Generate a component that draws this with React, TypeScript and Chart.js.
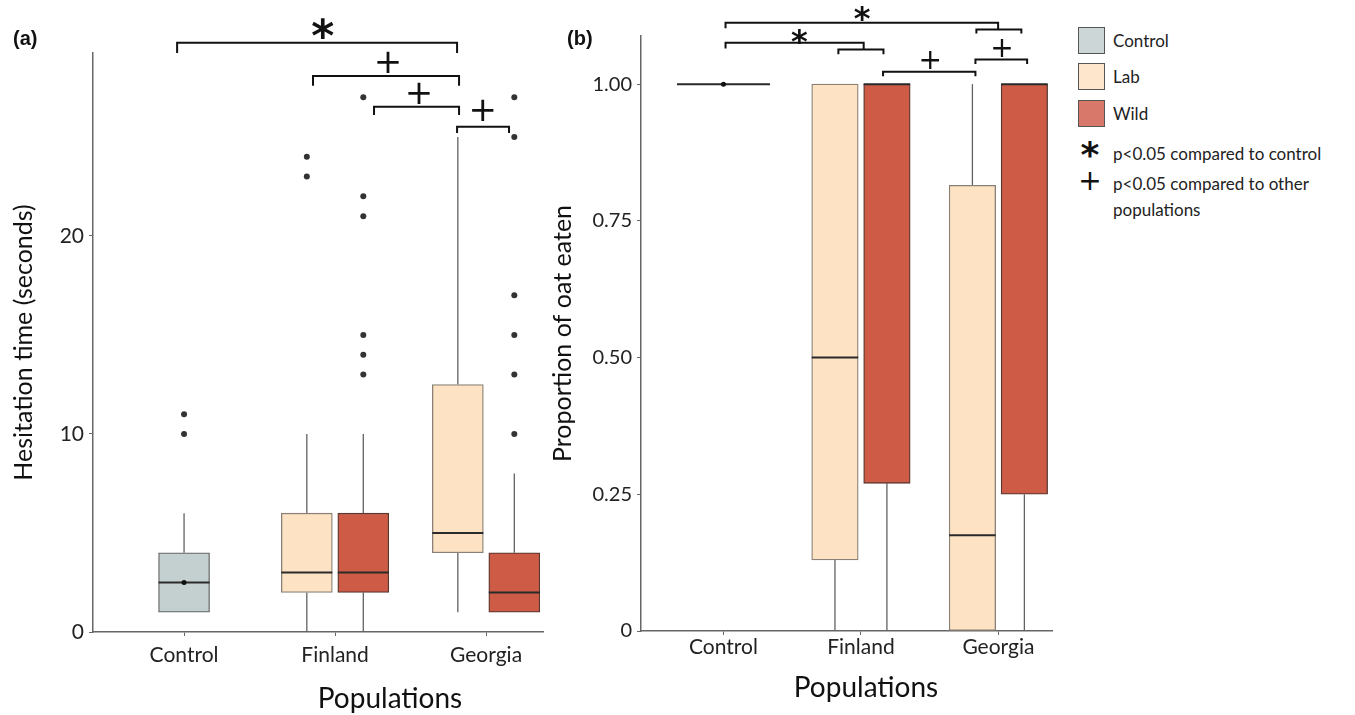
import React, { useEffect, useRef } from "react";
import { Chart, registerables } from "chart.js";

Chart.register(...registerables);

const FONT = "Lato, 'Open Sans', sans-serif";

// ---------- shared categories / groups ----------
const categories = ["Control", "Finland", "Georgia"];
const categoryIndex = [1, 2, 3];
const groupNames = ["Control", "Lab", "Wild"];
const groupSide = [0, -1, 1];
const groupFill = ["#c4cfcf", "#fde3c4", "#cd5b45"];
const groupBorder = ["#666666", "#8a8076", "#5a3830"];
const legendFill = ["#cdd6d6", "#fee6cd", "#d8786a"];

// each box: category (1-based) and group index
const boxCategory = [1, 2, 2, 3, 3];
const boxGroup = [0, 1, 2, 1, 2];

// ---------- (a) Hesitation time (seconds) ----------
const hesMin = [1, 0, 0, 1, 1];
const hesQ1 = [1, 2, 2, 4, 1];
const hesMedian = [2.5, 3, 3, 5, 2];
const hesQ3 = [4, 6, 6, 12.5, 4];
const hesMax = [6, 10, 10, 25, 8];
const hesOutliers = [[10, 11], [23, 24], [13, 14, 15, 21, 22, 27], [], [10, 13, 15, 17, 25, 27]];
const hesMean = [2.5, null, null, null, null];
const hesTicks = [0, 10, 20];
const hesTickLabels = ["0", "10", "20"];

// ---------- (b) Proportion of oat eaten ----------
const oatMin = [1, 0, 0, 0, 0];
const oatQ1 = [1, 0.13, 0.27, 0, 0.25];
const oatMedian = [1, 0.5, 1, 0.175, 1];
const oatQ3 = [1, 1, 1, 0.815, 1];
const oatMax = [1, 1, 1, 1, 1];
const oatOutliers: number[][] = [[], [], [], [], []];
const oatMean = [1, null, null, null, null];
const oatTicks = [0, 0.25, 0.5, 0.75, 1];
const oatTickLabels = ["0", "0.25", "0.50", "0.75", "1.00"];

// ---------- significance brackets (data units) ----------
const hesBrackets = [
  [[0.954, 29.24], [0.954, 29.76], [2.808, 29.76], [2.808, 29.24]],
  [[1.854, 27.58], [1.854, 28.08], [2.821, 28.08], [2.821, 27.58]],
  [[2.258, 26.11], [2.258, 26.52], [2.821, 26.52], [2.821, 26.11]],
  [[2.808, 25.2], [2.808, 25.52], [3.152, 25.52], [3.152, 25.2]],
];
const hesMarks = [
  { text: "*", x: 1.918, y: 30.5 },
  { text: "+", x: 2.351, y: 28.8 },
  { text: "+", x: 2.556, y: 27.24 },
  { text: "+", x: 2.978, y: 26.36 },
];
const oatBrackets = [
  [[1.015, 1.1024], [1.015, 1.1121], [2.998, 1.1121], [2.998, 1.1]],
  [[2.84, 1.0927], [2.84, 1.1], [3.167, 1.1], [3.167, 1.0927]],
  [[1.015, 1.0653], [1.015, 1.0755], [2.02, 1.0755], [2.02, 1.0634]],
  [[1.836, 1.0548], [1.836, 1.0634], [2.164, 1.0634], [2.164, 1.0548]],
  [[2.161, 1.0146], [2.161, 1.0225], [2.833, 1.0225], [2.833, 1.0146]],
  [[2.833, 1.0366], [2.833, 1.0452], [3.209, 1.0452], [3.209, 1.0366]],
];
const oatMarks = [
  { text: "*", x: 2.009, y: 1.1292 },
  { text: "*", x: 1.553, y: 1.0878 },
  { text: "+", x: 2.505, y: 1.0439 },
  { text: "+", x: 3.027, y: 1.0664 },
];

type Panel = {
  minV: number[]; q1: number[]; med: number[]; q3: number[]; maxV: number[];
  outliers: number[][]; mean: (number | null)[];
  yTicks: number[]; yTickLabels: string[]; yMax: number; yTitle: string;
  brackets: number[][][]; marks: { text: string; x: number; y: number }[];
  xMin: number; xMax: number; offset: number; boxWidth: number; controlWidth: number;
  yWidth: number; xHeight: number; padTop: number; padRight: number;
  titlePad: number; yTickSize: number; xTickPad: number;
  starSize: number; plusSize: number;
};

const panelA: Panel = {
  minV: hesMin, q1: hesQ1, med: hesMedian, q3: hesQ3, maxV: hesMax,
  outliers: hesOutliers, mean: hesMean,
  yTicks: hesTicks, yTickLabels: hesTickLabels, yMax: 29.24, yTitle: "Hesitation time (seconds)",
  brackets: hesBrackets, marks: hesMarks,
  xMin: 0.397, xMax: 3.377, offset: 0.187, boxWidth: 51, controlWidth: 51,
  yWidth: 93, xHeight: 83, padTop: 53, padRight: 7,
  titlePad: 9, yTickSize: 21, xTickPad: 7,
  starSize: 44, plusSize: 34,
};

const panelB: Panel = {
  minV: oatMin, q1: oatQ1, med: oatMedian, q3: oatQ3, maxV: oatMax,
  outliers: oatOutliers, mean: oatMean,
  yTicks: oatTicks, yTickLabels: oatTickLabels, yMax: 1.088, yTitle: "Proportion of oat eaten",
  brackets: oatBrackets, marks: oatMarks,
  xMin: 0.4, xMax: 3.39, offset: 0.189, boxWidth: 46.5, controlWidth: 93,
  yWidth: 101, xHeight: 84, padTop: 36, padRight: 8,
  titlePad: 8, yTickSize: 20, xTickPad: 0,
  starSize: 32, plusSize: 28,
};

function buildChart(canvas: HTMLCanvasElement, p: Panel) {
  const groupBoxes = groupNames.map((_, g) =>
    boxGroup.map((gg, i) => (gg === g ? i : -1)).filter((i) => i >= 0)
  );
  const boxX = (i: number) => boxCategory[i] + groupSide[boxGroup[i]] * p.offset;

  const barSets: any[] = groupNames.map((name, g) => ({
    type: "bar",
    label: name,
    order: 1,
    data: groupBoxes[g].map((i) => ({ x: boxX(i), y: [p.q1[i], p.q3[i]] })),
    backgroundColor: groupFill[g],
    borderColor: groupBorder[g],
    borderWidth: groupBoxes[g].map((i) => (p.q1[i] === p.q3[i] ? 0 : 1.3)),
    borderSkipped: false,
    barThickness: g === 0 ? p.controlWidth : p.boxWidth,
    grouped: false,
  }));

  const outlierSet: any = {
    type: "scatter",
    label: "outliers",
    order: 0,
    data: boxCategory.flatMap((_, i) => p.outliers[i].map((v) => ({ x: boxX(i), y: v }))),
    pointRadius: 3,
    pointBackgroundColor: "#333333",
    pointBorderWidth: 0,
  };
  const meanSet: any = {
    type: "scatter",
    label: "mean",
    order: 0,
    data: boxCategory
      .map((_, i) => (p.mean[i] == null ? null : { x: boxX(i), y: p.mean[i] }))
      .filter((d) => d !== null),
    pointRadius: 2.5,
    pointBackgroundColor: "#111111",
    pointBorderWidth: 0,
  };

  const plugin = {
    id: "boxPlotParts",
    beforeDatasetsDraw(chart: any) {
      const ctx = chart.ctx;
      const ys = chart.scales.y;
      ctx.save();
      ctx.strokeStyle = "#626262";
      ctx.lineWidth = 1.3;
      groupNames.forEach((_, g) => {
        const meta = chart.getDatasetMeta(g);
        groupBoxes[g].forEach((b, k) => {
          const el = meta.data[k];
          if (!el) return;
          const x = el.x;
          const seg = (a: number, c: number) => {
            if (a === c) return;
            ctx.beginPath();
            ctx.moveTo(x, ys.getPixelForValue(a));
            ctx.lineTo(x, ys.getPixelForValue(c));
            ctx.stroke();
          };
          seg(p.q3[b], p.maxV[b]);
          seg(p.minV[b], p.q1[b]);
        });
      });
      ctx.restore();
    },
    afterDatasetDraw(chart: any, args: any) {
      const g = args.index;
      if (g > 2) return;
      const ctx = chart.ctx;
      const ys = chart.scales.y;
      const meta = chart.getDatasetMeta(g);
      ctx.save();
      ctx.strokeStyle = "#2a2a2a";
      ctx.lineWidth = 2;
      groupBoxes[g].forEach((b, k) => {
        const el = meta.data[k];
        if (!el) return;
        const y = ys.getPixelForValue(p.med[b]);
        ctx.beginPath();
        ctx.moveTo(el.x - el.width / 2, y);
        ctx.lineTo(el.x + el.width / 2, y);
        ctx.stroke();
      });
      ctx.restore();
    },
    afterDraw(chart: any) {
      const ctx = chart.ctx;
      const xs = chart.scales.x;
      const ys = chart.scales.y;
      ctx.save();
      ctx.strokeStyle = "#111111";
      ctx.lineWidth = 2;
      ctx.lineJoin = "miter";
      p.brackets.forEach((path) => {
        ctx.beginPath();
        path.forEach(([vx, vy], i) => {
          const px = xs.getPixelForValue(vx);
          const py = ys.getPixelForValue(vy);
          if (i === 0) ctx.moveTo(px, py);
          else ctx.lineTo(px, py);
        });
        ctx.stroke();
      });
      ctx.fillStyle = "#111111";
      ctx.textAlign = "center";
      ctx.textBaseline = "alphabetic";
      p.marks.forEach((m) => {
        const star = m.text === "*";
        ctx.font = `${star ? "bold " : ""}${star ? p.starSize : p.plusSize}px 'DejaVu Sans'`;
        const mt = ctx.measureText(m.text);
        const cy = ys.getPixelForValue(m.y);
        const base = cy + (mt.actualBoundingBoxAscent - mt.actualBoundingBoxDescent) / 2;
        ctx.fillText(m.text, xs.getPixelForValue(m.x), base);
      });
      ctx.restore();
    },
  };

  return new Chart(canvas, {
    type: "bar",
    data: { datasets: [...barSets, outlierSet, meanSet] },
    options: {
      responsive: false,
      animation: false,
      layout: { padding: { top: p.padTop, right: p.padRight, left: 0, bottom: 0 } },
      plugins: { legend: { display: false }, tooltip: { enabled: false } },
      scales: {
        x: {
          type: "linear",
          min: p.xMin,
          max: p.xMax,
          offset: false,
          afterBuildTicks: (s: any) => {
            s.ticks = categoryIndex.map((v) => ({ value: v }));
          },
          afterFit: (s: any) => {
            s.height = p.xHeight;
          },
          ticks: {
            autoSkip: false,
            maxRotation: 0,
            padding: p.xTickPad,
            color: "#222222",
            font: { family: FONT, size: 21 },
            callback: (v: any) => categories[categoryIndex.indexOf(Number(v))] ?? "",
          },
          grid: { drawOnChartArea: false, drawTicks: true, tickLength: 4, color: "#666666", offset: false },
          border: { display: true, color: "#666666", width: 1.5 },
        },
        y: {
          type: "linear",
          min: 0,
          max: p.yMax,
          afterBuildTicks: (s: any) => {
            s.ticks = p.yTicks.map((v) => ({ value: v }));
          },
          afterFit: (s: any) => {
            s.width = p.yWidth;
          },
          ticks: {
            padding: 5,
            color: "#222222",
            font: { family: FONT, size: p.yTickSize },
            callback: (v: any) => p.yTickLabels[p.yTicks.indexOf(Number(v))] ?? "",
          },
          grid: { drawOnChartArea: false, drawTicks: true, tickLength: 4, color: "#666666" },
          border: { display: true, color: "#666666", width: 1.5 },
          title: {
            display: true,
            text: p.yTitle,
            color: "#111111",
            font: { family: FONT, size: 25 },
            padding: { top: p.titlePad, bottom: 0 },
          },
        },
      },
    },
    plugins: [plugin],
  } as any);
}

const abs = (extra: React.CSSProperties): React.CSSProperties => ({ position: "absolute", ...extra });

export default function App() {
  const refA = useRef<HTMLCanvasElement>(null);
  const refB = useRef<HTMLCanvasElement>(null);

  useEffect(() => {
    const a = buildChart(refA.current as HTMLCanvasElement, panelA);
    const b = buildChart(refB.current as HTMLCanvasElement, panelB);
    return () => {
      a.destroy();
      b.destroy();
    };
  }, []);

  const legendTop = [27, 63, 100];
  const textStyle: React.CSSProperties = { fontFamily: FONT, color: "#222", whiteSpace: "nowrap", lineHeight: 1 };
  const panelLabel: React.CSSProperties = { fontFamily: "'Liberation Sans', Arial, sans-serif", fontWeight: "bold", fontSize: 20, lineHeight: 1, color: "#111" };

  return (
    <div style={{ position: "fixed", left: 0, top: 0, width: 1355, height: 715, background: "#ffffff", overflow: "hidden" }}>
      <canvas ref={refA} width={550} height={715} style={abs({ left: 0, top: 0 })} />
      <canvas ref={refB} width={520} height={715} style={abs({ left: 540, top: 0 })} />

      <div style={abs({ ...panelLabel, left: 13, top: 28 })}>(a)</div>
      <div style={abs({ ...panelLabel, left: 567, top: 28 })}>(b)</div>

      <div style={abs({ ...textStyle, left: 390, top: 697 - 14, fontSize: 28, transform: "translateX(-50%)", color: "#111" })}>Populations</div>
      <div style={abs({ ...textStyle, left: 866, top: 686 - 14, fontSize: 28, transform: "translateX(-50%)", color: "#111" })}>Populations</div>

      {groupNames.map((name, g) => (
        <React.Fragment key={name}>
          <div style={abs({ left: 1078, top: legendTop[g], width: 25, height: 25, background: legendFill[g], border: "1.5px solid #555" })} />
          <div style={abs({ ...textStyle, left: 1113, top: legendTop[g] + 5, fontSize: 17 })}>{name}</div>
        </React.Fragment>
      ))}
      <div style={abs({ ...textStyle, left: 1090, top: 137, fontSize: 36, fontWeight: "bold", fontFamily: "'DejaVu Sans'", transform: "translateX(-50%)", color: "#111" })}>*</div>
      <div style={abs({ ...textStyle, left: 1113, top: 145, fontSize: 17 })}>p&lt;0.05 compared to control</div>
      <div style={abs({ ...textStyle, left: 1090, top: 167, fontSize: 28, fontFamily: "'DejaVu Sans'", transform: "translateX(-50%)", color: "#111" })}>+</div>
      <div style={abs({ ...textStyle, left: 1113, top: 175, fontSize: 17 })}>p&lt;0.05 compared to other</div>
      <div style={abs({ ...textStyle, left: 1113, top: 201, fontSize: 17 })}>populations</div>
    </div>
  );
}
